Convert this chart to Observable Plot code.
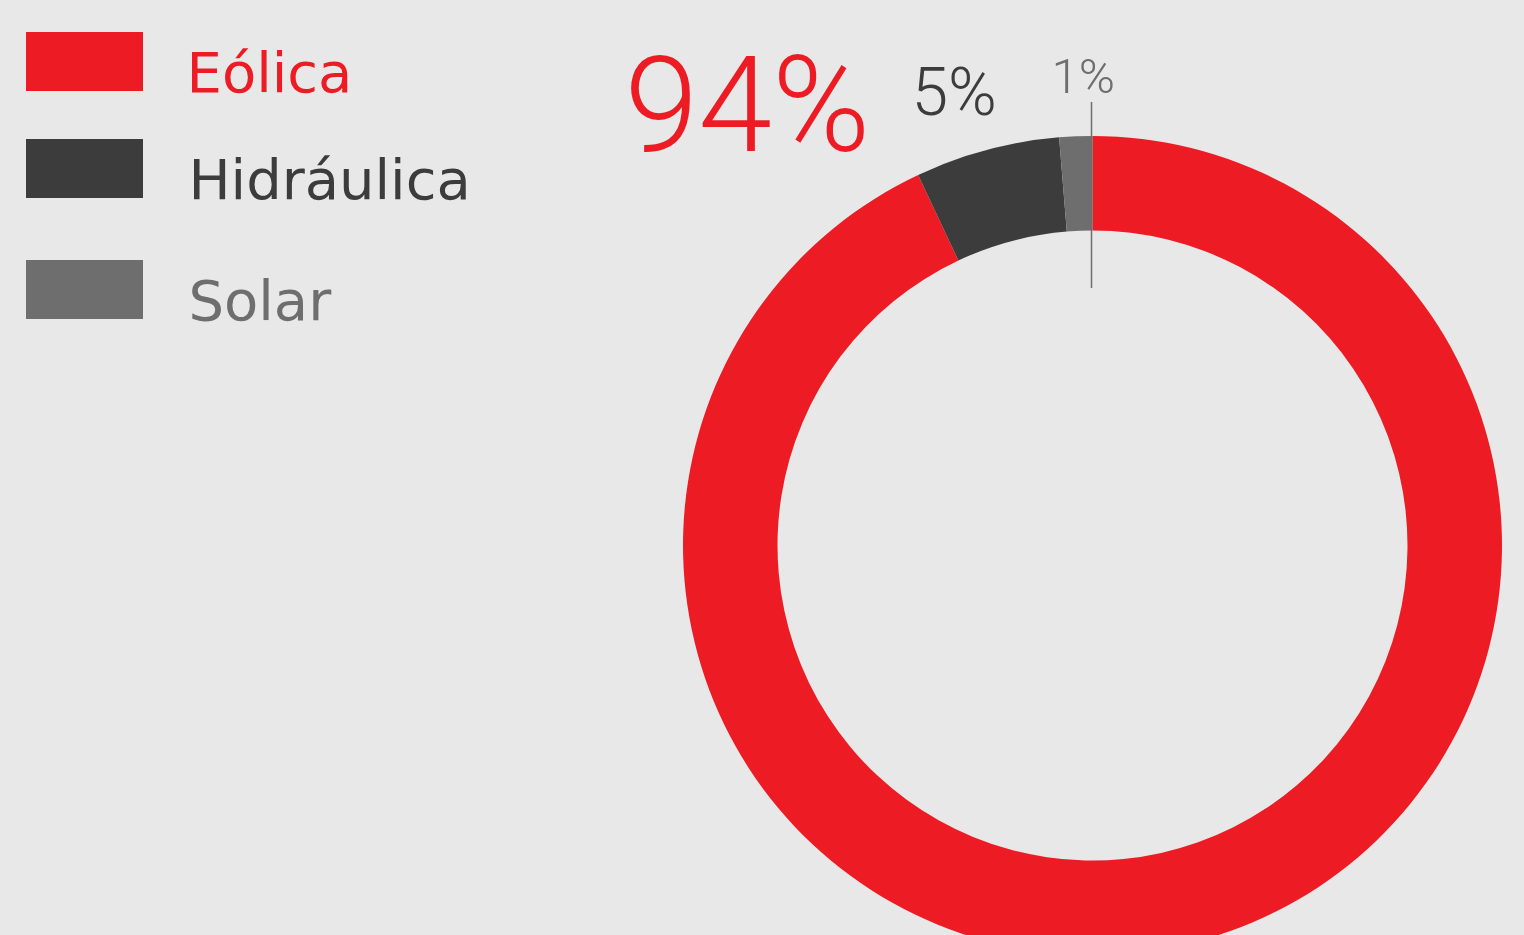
<!DOCTYPE html>
<html><head><meta charset="utf-8">
<script src="https://cdn.jsdelivr.net/npm/d3@7"></script>
<script src="https://cdn.jsdelivr.net/npm/@observablehq/plot@0.6"></script>
<style>html,body{margin:0;padding:0;background:#e8e8e8;overflow:hidden}</style>
</head><body><div id="chart"></div>
<script>
// ---- data ----
const categories = ["Eólica", "Hidráulica", "Solar"];
const shares = [93.0, 5.7, 1.3];
const percentLabels = ["94%", "5%", "1%"];
const palette = ["#ed1c24", "#3c3c3c", "#6e6e6e"];

// ---- layout (pixels) ----
const W = 1524, H = 935;
const cx = 1092.5, cy = 545.5, rOuter = 409.5, rInner = 315;
const legendTop = [32, 139, 260];
const legendSwatch = {x1: 26, x2: 143, h: 59};
const legendTextX = [186, 188, 188];
const pctLayout = [
  {x: 624, y: 150, size: 133},
  {x: 911, y: 114, size: 66},
  {x: 1051, y: 92, size: 49}
];

const rows = categories.map((c, i) => ({category: c, share: shares[i], label: percentLabels[i], i}));
const pie = d3.pie().sort(null).value(d => d.share)(rows);

function donut(index, scales) {
  const X = scales.x, Y = scales.y;
  const ro = X(cx + rOuter) - X(cx), ri = X(cx + rInner) - X(cx);
  const arc = d3.arc().innerRadius(ri).outerRadius(ro);
  const g = d3.create("svg:g").attr("transform", `translate(${X(cx)},${Y(cy)})`);
  g.selectAll("path").data(pie).join("path")
    .attr("d", arc)
    .attr("fill", d => scales.color(d.data.category));
  return g.node();
}

const chart = Plot.plot({
  width: W, height: H, margin: 0,
  style: {background: "#e8e8e8", overflow: "hidden"},
  x: {domain: [0, W], range: [0, W], axis: null},
  y: {domain: [0, H], range: [0, H], axis: null},
  color: {domain: categories, range: palette},
  marks: [
    donut,
    Plot.ruleX([cx - 1.5], {y1: 102, y2: 288, stroke: palette[2], strokeWidth: 1.5}),
    Plot.rect(rows, {
      x1: legendSwatch.x1, x2: legendSwatch.x2,
      y1: d => legendTop[d.i], y2: d => legendTop[d.i] + legendSwatch.h,
      fill: "category"
    }),
    Plot.text(rows, {
      x: d => legendTextX[d.i], y: d => legendTop[d.i] + legendSwatch.h,
      text: "category", fill: "category",
      textAnchor: "start", lineAnchor: "bottom",
      fontFamily: "DejaVu Sans", fontSize: 56
    }),
    ...rows.map((r, k) => Plot.text([r], {
      x: pctLayout[k].x, y: pctLayout[k].y,
      text: "label", fill: "category",
      textAnchor: "start", lineAnchor: "bottom",
      fontFamily: "Roboto", fontWeight: 300, fontSize: pctLayout[k].size
    }))
  ]
});
document.getElementById("chart").append(chart);
</script>
</body></html>
